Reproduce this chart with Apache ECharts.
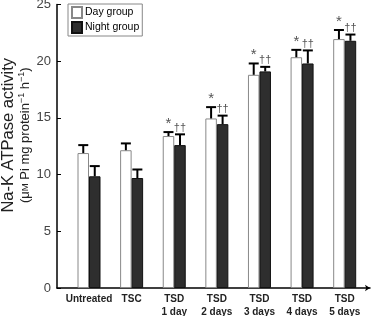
<!DOCTYPE html>
<html>
<head>
<meta charset="utf-8">
<script src="https://cdn.jsdelivr.net/npm/echarts@6/dist/echarts.min.js"></script>
<style>
  html, body { margin: 0; padding: 0; background: #fff; }
  #chart { width: 371px; height: 316px; }
</style>
</head>
<body>
<div id="chart"></div>
<script>
  // 数据
  const categories = ['Untreated', 'TSC', 'TSD\n1 day', 'TSD\n2 days', 'TSD\n3 days', 'TSD\n4 days', 'TSD\n5 days'];
  const dayMean = [11.9, 12.15, 13.4, 14.95, 18.8, 20.35, 21.95];
  const dayErr = [0.7, 0.6, 0.35, 1.0, 1.0, 0.65, 0.8];
  const nightMean = [9.85, 9.7, 12.6, 14.45, 19.1, 19.8, 21.8];
  const nightErr = [0.9, 0.75, 0.95, 0.75, 0.4, 1.15, 0.55];
  const daySig = ['', '', '*', '*', '*', '*', '*'];
  const nightSig = ['', '', '††', '††', '††', '††', '††'];
  const yTicks = [0, 5, 10, 15, 20, 25];

  const BAR_W = 11.5;
  const FONT = 'Arial, Liberation Sans, sans-serif';

  const chart = echarts.init(document.getElementById('chart'), null, { renderer: 'canvas' });

  // 误差线 + 显著性标记
  const errorSeries = (mean, err, sig, side, name) => ({
    name: name + '-err',
    type: 'custom',
    xAxisIndex: 0,
    yAxisIndex: 0,
    silent: true,
    z: 5,
    data: mean.map((m, i) => [i, m, m + err[i]]),
    renderItem: function (params, api) {
      const base = api.coord([api.value(0), api.value(1)]);
      const top = api.coord([api.value(0), api.value(2)]);
      const x = base[0] + side * BAR_W / 2;
      const children = [
        { type: 'line', shape: { x1: x, y1: base[1], x2: x, y2: top[1] }, style: { stroke: '#000', lineWidth: 2 } },
        { type: 'line', shape: { x1: x - 5, y1: top[1], x2: x + 5, y2: top[1] }, style: { stroke: '#000', lineWidth: 2 } }
      ];
      const s = sig[params.dataIndex];
      if (s) {
        children.push({
          type: 'text',
          style: {
            text: s, x: x, y: top[1] - 1,
            align: 'center', verticalAlign: 'bottom',
            fill: '#555', fontSize: s === '*' ? 15 : 11,
            fontFamily: FONT
          }
        });
      }
      return { type: 'group', children };
    }
  });

  const option = {
    animation: false,
    backgroundColor: '#fff',
    legend: {
      left: 68,
      top: 4,
      orient: 'vertical',
      icon: 'rect',
      itemWidth: 10,
      itemHeight: 11,
      itemGap: 2,
      padding: [2, 3, 2, 3],
      borderColor: '#888',
      borderWidth: 1,
      data: ['Day group', 'Night group'],
      textStyle: { fontSize: 10.5, color: '#000', fontFamily: FONT, padding: [0, 0, 0, -2] }
    },
    grid: [
      { left: 67.7, right: 5, top: 4.5, bottom: 28, outerBoundsMode: 'none' },
      { left: 57, right: 1, top: 4.5, bottom: 28, outerBoundsMode: 'none' }
    ],
    xAxis: [
      {
        type: 'category',
        gridIndex: 0,
        data: categories,
        axisLine: { show: false },
        axisTick: { show: false },
        axisLabel: {
          interval: 0,
          margin: 5,
          fontSize: 10,
          fontWeight: 'bold',
          lineHeight: 12.5,
          color: '#222',
          fontFamily: FONT
        }
      },
      {
        type: 'value',
        gridIndex: 1,
        min: 0,
        max: 1,
        axisLine: { show: true, lineStyle: { color: '#000', width: 1.5 }, symbol: ['none', 'arrow'], symbolSize: [5, 5] },
        axisTick: { show: false },
        axisLabel: { show: false },
        splitLine: { show: false }
      }
    ],
    yAxis: [
      {
        type: 'value',
        gridIndex: 0,
        min: 0,
        max: 25,
        show: false
      },
      {
        type: 'value',
        gridIndex: 1,
        min: yTicks[0],
        max: yTicks[yTicks.length - 1],
        interval: 5,
        axisLine: { show: true, lineStyle: { color: '#000', width: 1.5 } },
        axisTick: { show: true, inside: true, length: 4, lineStyle: { color: '#000' } },
        splitLine: { show: false },
        axisLabel: {
          margin: 6,
          fontSize: 13,
          color: '#444',
          fontFamily: FONT
        },
        name: '{t|Na-K ATPase activity}\n{s|(μ}{sc|M}{s| Pi mg protein}{sup|−1}{s| h}{sup|−1}{s|)}',
        nameLocation: 'middle',
        nameRotate: 90,
        nameGap: 24,
        nameMoveOverlap: false,
        nameTextStyle: {
          color: '#222',
          fontFamily: FONT,
          padding: [0, 0, 0, 22],
          rich: {
            t: { fontSize: 16.5, color: '#222', lineHeight: 18, fontFamily: FONT },
            s: { fontSize: 13, color: '#222', lineHeight: 16, fontFamily: FONT },
            sc: { fontSize: 9.5, color: '#222', lineHeight: 16, fontFamily: FONT },
            sup: { fontSize: 9, color: '#222', lineHeight: 16, verticalAlign: 'top', fontFamily: FONT }
          }
        }
      }
    ],
    series: [
      {
        name: 'Day group',
        type: 'bar',
        xAxisIndex: 0,
        yAxisIndex: 0,
        barWidth: BAR_W,
        barGap: '0%',
        data: dayMean,
        itemStyle: { color: '#fff', borderColor: '#888', borderWidth: 1 }
      },
      {
        name: 'Night group',
        type: 'bar',
        xAxisIndex: 0,
        yAxisIndex: 0,
        barWidth: BAR_W,
        barGap: '0%',
        data: nightMean,
        itemStyle: { color: '#2e2e2e', borderColor: '#111', borderWidth: 1 }
      },
      errorSeries(dayMean, dayErr, daySig, -1, 'day'),
      errorSeries(nightMean, nightErr, nightSig, 1, 'night')
    ]
  };

  chart.setOption(option);
</script>
</body>
</html>
